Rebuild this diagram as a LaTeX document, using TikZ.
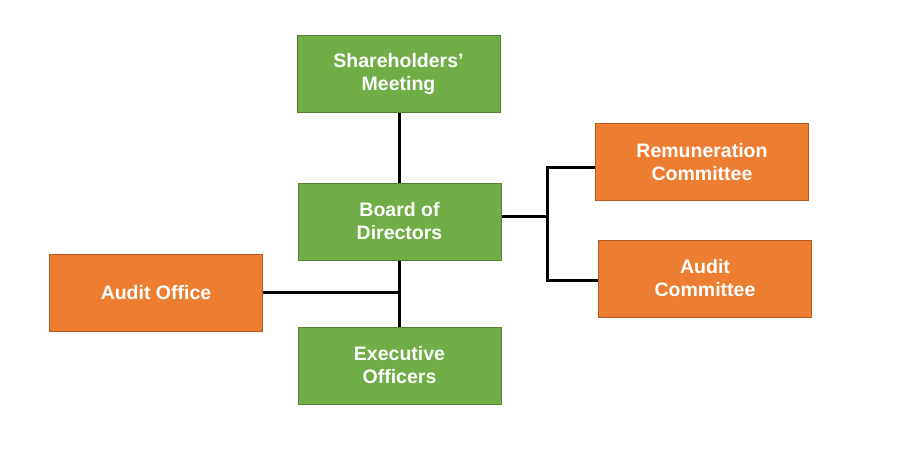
\documentclass[tikz,border=0pt]{standalone}
\usepackage{fontspec}
\setmainfont{Liberation Sans}
\usetikzlibrary{positioning,calc}
\definecolor{boxgreen}{HTML}{70AD47}
\definecolor{edgegreen}{HTML}{507E32}
\definecolor{boxorange}{HTML}{ED7D31}
\definecolor{edgeorange}{HTML}{AE5A21}
\tikzset{
  orgbox/.style={rectangle,minimum width=203pt,minimum height=77pt,line width=1pt,
    text=white,align=center,font=\bfseries\fontsize{19.5}{23}\selectfont,inner sep=0pt},
  greenbox/.style={orgbox,fill=boxgreen,draw=edgegreen},
  orangebox/.style={orgbox,fill=boxorange,draw=edgeorange,minimum width=213pt},
  link/.style={line width=3pt,black}
}

\begin{document}
\begin{tikzpicture}
[x=1pt,y=-1pt]
\useasboundingbox[fill=white] (0,0) rectangle (899,459);
\node[greenbox] (sh) at (398.5,73.5) {Shareholders’\\Meeting};
\node[greenbox] (bd) at (399.5,221.5) {Board of\\Directors};
\node[greenbox] (ex) at (399.5,365.5) {Executive\\Officers};
\node[orangebox] (ao) at (156,292.5) {Audit Office};
\node[orangebox] (rc) at (702,162) {Remuneration\\Committee};
\node[orangebox] (ac) at (705,278.5) {Audit\\Committee};
% junctions
\coordinate (bj) at (547,216);
\coordinate (rj) at (547,167);
\coordinate (aj) at (547,280);
\coordinate (oj) at (399.5,292);
\draw[link] (sh.south -| bd.south) -- (bd.north);
\draw[link] (bd.south) -- (ex.north);
\draw[link] (oj -| ao.east) -- (oj);
\draw[link] (bj -| bd.east) -- (bj);
\draw[link] (rj -| rc.west) -- (rj) -- (aj) -- (aj -| ac.west);
\end{tikzpicture}
\end{document}
